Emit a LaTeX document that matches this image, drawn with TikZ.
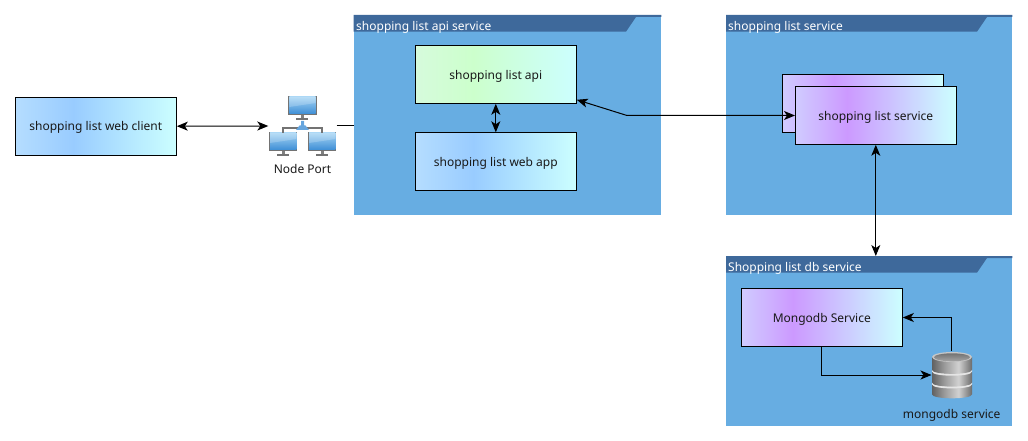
\documentclass[tikz,border=0pt]{standalone}
\usepackage{fontspec}
\setmainfont{Noto Sans}
\usetikzlibrary{arrows.meta,calc}
\definecolor{folderblue}{HTML}{67ADE2}
\definecolor{tabblue}{HTML}{3E699B}
\definecolor{boxa}{HTML}{B5DDFF}
\definecolor{boxb}{HTML}{99CCFF}
\definecolor{boxc}{HTML}{CCFFFF}
\definecolor{grna}{HTML}{D6FBDC}
\definecolor{grnb}{HTML}{CCFFCC}
\definecolor{pura}{HTML}{D0CCFF}
\definecolor{purb}{HTML}{CC99FF}
\definecolor{scrtop}{HTML}{A5D4F4}
\definecolor{scrbot}{HTML}{3F8FD6}
\pgfdeclarehorizontalshading{bluegradb}{100bp}{color(0bp)=(boxa);color(25bp)=(boxa);color(43bp)=(boxb);color(75bp)=(boxc);color(100bp)=(boxc)}
\pgfdeclarehorizontalshading{greengrad}{100bp}{color(0bp)=(grna);color(25bp)=(grna);color(43bp)=(grnb);color(75bp)=(boxc);color(100bp)=(boxc)}
\pgfdeclarehorizontalshading{purplegrad}{100bp}{color(0bp)=(pura);color(25bp)=(pura);color(41bp)=(purb);color(75bp)=(boxc);color(100bp)=(boxc)}
\pgfdeclarehorizontalshading{dbgrad}{100bp}{color(0bp)=(black!62);color(25bp)=(black!62);color(40bp)=(black!40);color(58bp)=(black!18);color(75bp)=(black!58);color(100bp)=(black!58)}
\tikzset{
  x=1pt,y=-1pt,
  every node/.style={font=\fontsize{12}{14}\selectfont,inner sep=0pt,text=black!90,text height=9.6pt,text depth=0pt},
  svcbox/.style={draw=black,line width=1pt,minimum width=161pt,minimum height=58pt,anchor=center},
  bluebox/.style={svcbox,shading=bluegradb},
  greenbox/.style={svcbox,shading=greengrad},
  purplebox/.style={svcbox,shading=purplegrad},
  conn/.style={draw=black,line width=1pt},
  tipped/.style={conn,{Stealth[length=11pt,width=9pt,inset=3pt]}-{Stealth[length=11pt,width=9pt,inset=3pt]}},
  onetip/.style={conn,-{Stealth[length=11pt,width=9pt,inset=3pt]}},
  foldertitle/.style={text=white,anchor=west,text height=8.8pt},
  icontext/.style={anchor=center},
}
\newcommand{\folderbody}[5]{%
  \fill[folderblue] (#1,#2) rectangle (#3,#4);
  \fill[tabblue] (#1,#2) -- (#3,#2) -- (#3,#2+2) -- (#5+10,#2+2) -- (#5,#2+16.7) -- (#1,#2+16.7) -- cycle;
}
\newcommand{\monitor}[2]{%
  \begin{scope}[shift={(#1,#2)}]
    \fill[black!50] (12.5,18) rectangle (15.5,23);
    \fill[black!55] (8,22.5) rectangle (20,24);
    \fill[black!55] (0,0) rectangle (28.4,18.7);
    \shade[top color=scrtop,bottom color=scrbot] (1,1) rectangle (27.4,17.7);
    \fill[white,opacity=.2] (1,1) -- (27.4,1) -- (27.4,7) -- (1,11) -- cycle;
  \end{scope}%
}
\newcommand{\dbdisc}[2]{%
  \path[shading=dbgrad] (0,#1) -- (0,#2) .. controls (0,#2+5.33) and (40,#2+5.33) .. (40,#2) -- (40,#1) -- cycle;
}
\newcommand{\dbband}[2]{%
  \fill[black!10] (0,#1) .. controls (0,#1+5.33) and (40,#1+5.33) .. (40,#1) -- (40,#2) .. controls (40,#2+5.33) and (0,#2+5.33) .. (0,#2) -- cycle;
}
\begin{document}
\begin{tikzpicture}
\useasboundingbox (0,0) rectangle (1028,441);
\folderbody{353.5}{15}{661.4}{214.7}{626}
\folderbody{726}{15}{1012.4}{215}{977}
\folderbody{726}{256}{1012.4}{425.7}{977}
\node[foldertitle] (t1) at (356,26) {shopping list api service};
\node[foldertitle] (t2) at (728,26) {shopping list service};
\node[foldertitle] (t3) at (728,267) {Shopping list db service};
\node[minimum width=68pt,minimum height=62pt] (np) at (302.5,126) {};
\node[minimum width=40pt,minimum height=48pt] (db) at (951.7,375) {};
\node[minimum width=1pt,minimum height=1pt] (f1) at (354,126) {};
\node[bluebox] (client) at (95.8,126.2) {shopping list web client};
\node[greenbox] (api) at (495.8,74.3) {shopping list api};
\node[bluebox] (webapp) at (495.8,161.8) {shopping list web app};
\node[purplebox] (svcback) at (862.8,103.3) {};
\coordinate (apiin) at ($(api.south east)+(0,-4)$);
\coordinate (bend) at (627,115.5);
\coordinate (svcin) at (795,115.5);
\draw[tipped] (apiin) -- (bend) -- (svcin);
\node[purplebox] (svc) at (875.8,115.3) {shopping list service};
\node[purplebox] (mongo) at (821.8,317.5) {Mongodb Service};
% network icon
\monitor{288.3}{96}
\monitor{269}{132}
\monitor{308}{132}
\draw[black!55,line width=1.4pt] (283,133) -- (283,128) -- (322,128) -- (322,133);
\fill[scrbot!80!white] (296,130) -- (299.5,125.5) -- (301,125.5) -- (301,121) -- (304,121) -- (304,125.5) -- (305.5,125.5) -- (309,130) -- cycle;
\node[icontext] (nplabel) at (302.5,168.6) {Node Port};
% database icon
\begin{scope}[shift={(932,351)}]
  \dbdisc{33}{43.3}
  \dbband{31.4}{33.4}
  \dbdisc{20.7}{31.5}
  \dbband{18.6}{20.7}
  \dbdisc{6}{18.8}
  \fill[black!22] (20,6) ellipse[x radius=20,y radius=5];
  \shade[top color=black!55,bottom color=black!35] (20,6.3) ellipse[x radius=18,y radius=4];
\end{scope}
\node[icontext] (dblabel) at (951.7,413.6) {mongodb service};
\coordinate (dbtop) at (951.7,351);
\draw[tipped] (client.east) -- (np.west);
\draw[conn] (np.east) -- (f1.center);
\draw[tipped] (api.south) -- (webapp.north);
\draw[tipped] (svc.south) -- (875.8,256);
\draw[onetip] (dbtop) |- (mongo.east);
\draw[onetip] (mongo.south) |- (db.west);
\end{tikzpicture}
\end{document}
